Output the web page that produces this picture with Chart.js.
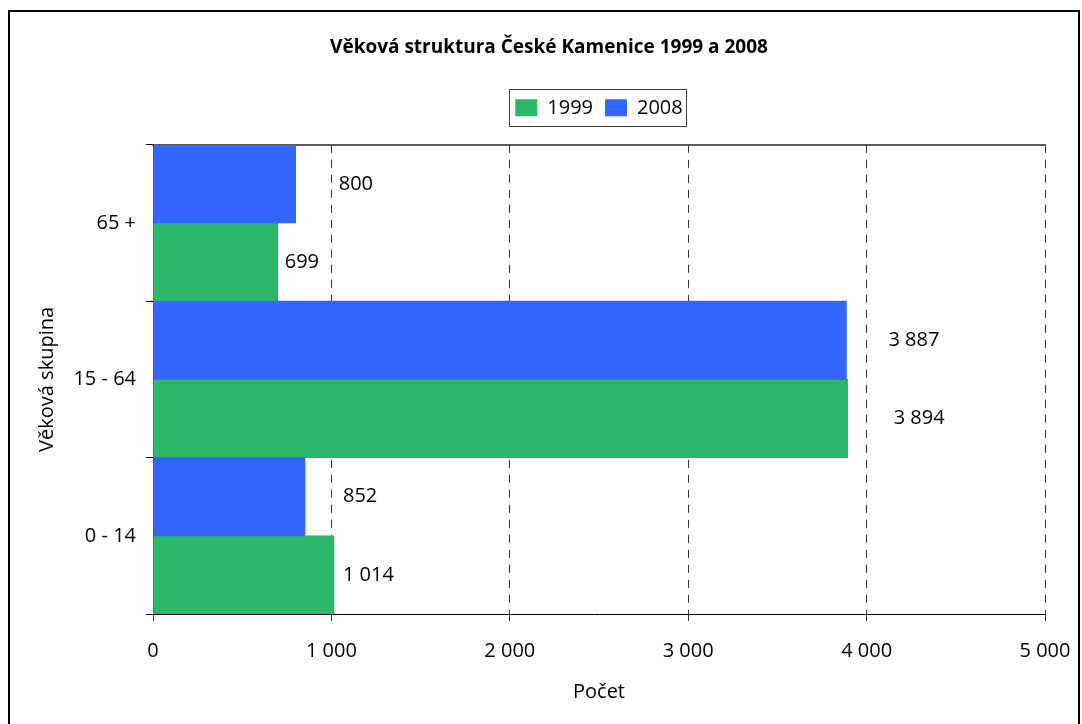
<!DOCTYPE html>
<html>
<head>
<meta charset="utf-8">
<script src="https://cdn.jsdelivr.net/npm/chart.js"></script>
<style>
  html, body { margin: 0; padding: 0; background: #fff; }
</style>
</head>
<body>
<canvas id="myChart" width="1082" height="724"></canvas>
<script>
// data, top to bottom
const categories = ["65 +", "15 - 64", "0 - 14"];
const values1999 = [699, 3894, 1014];
const values2008 = [800, 3887, 852];
const xTicks = [0, 1000, 2000, 3000, 4000, 5000];

const FONT = "'Open Sans', 'Noto Sans', sans-serif";
const fmt = (v) => String(v).replace(/\B(?=(\d{3})+(?!\d))/g, " ");

// chart frame + legend box
const framePlugin = {
  id: "frame",
  beforeDraw(chart) {
    const c = chart.ctx;
    c.save();
    c.fillStyle = "#fff";
    c.fillRect(0, 0, chart.width, chart.height);
    c.strokeStyle = "#000";
    c.lineWidth = 2;
    c.strokeRect(9, 11, 1070, 760);
    c.restore();
  },
  afterDraw(chart) {
    const boxes = chart.legend.legendHitBoxes;
    if (!boxes || !boxes.length) return;
    let x1 = Infinity, y1 = Infinity, x2 = -Infinity, y2 = -Infinity;
    boxes.forEach((b) => {
      x1 = Math.min(x1, b.left);
      y1 = Math.min(y1, b.top);
      x2 = Math.max(x2, b.left + b.width);
      y2 = Math.max(y2, b.top + b.height);
    });
    const c = chart.ctx;
    c.save();
    c.strokeStyle = "#404040";
    c.lineWidth = 1;
    c.strokeRect(Math.round(x1 - 6) + 0.5, Math.round(y1 - 9) + 0.5, Math.round(x2 - x1 + 10), Math.round(y2 - y1 + 17));
    c.restore();
  },
};

// value labels next to the bars
const labelPlugin = {
  id: "barLabels",
  afterDatasetsDraw(chart, args, opts) {
    const c = chart.ctx;
    c.save();
    c.font = "20px " + FONT;
    c.fillStyle = "#000";
    c.textAlign = "left";
    c.textBaseline = "middle";
    chart.data.datasets.forEach((ds, i) => {
      const meta = chart.getDatasetMeta(i);
      meta.data.forEach((bar, j) => {
        c.fillText(fmt(ds.data[j]), bar.x + opts.gaps[i][j], bar.y);
      });
    });
    c.restore();
  },
};

const ctx = document.getElementById("myChart");
const myChart = new Chart(ctx, {
  type: "bar",
  data: {
    labels: categories,
    datasets: [
      {
        label: "2008",
        data: values2008,
        backgroundColor: "#3366ff",
        borderWidth: 0,
      },
      {
        label: "1999",
        data: values1999,
        backgroundColor: "#2bb86a",
        borderWidth: 0,
      },
    ],
  },
  options: {
    indexAxis: "y",
    responsive: false,
    animation: false,
    devicePixelRatio: 1,
    categoryPercentage: 1.0,
    barPercentage: 1.0,
    layout: { padding: { left: 16, right: 0, top: 0, bottom: 0 } },
    scales: {
      x: {
        type: "linear",
        position: "bottom",
        min: 0,
        max: 5000,
        afterBuildTicks(s) {
          s.ticks = xTicks.map((v) => ({ value: v }));
        },
        afterFit(s) {
          s.height = 110;
          s.paddingRight = 37;
        },
        ticks: {
          color: "#000",
          font: { size: 20, family: FONT },
          padding: 18,
          maxRotation: 0,
          callback: (v) => fmt(v),
        },
        grid: { color: "#333", lineWidth: 1, tickLength: 7 },
        border: { display: true, color: "#000", width: 1, dash: [8, 7] },
        title: {
          display: true,
          text: "Počet",
          color: "#000",
          font: { size: 20, family: FONT },
          padding: { top: 0, bottom: 20 },
        },
      },
      xTop: {
        type: "linear",
        position: "top",
        min: 0,
        max: 5000,
        display: true,
        ticks: { display: false },
        grid: { display: false, drawTicks: false },
        border: { display: true, color: "#595959", width: 2 },
        afterFit(s) {
          s.height = 17;
        },
      },
      y: {
        type: "category",
        afterFit(s) {
          s.width = 137;
        },
        ticks: {
          color: "#000",
          font: { size: 20, family: FONT },
          padding: 10,
        },
        grid: { drawOnChartArea: false, color: "#000", tickLength: 7, offset: true },
        border: { display: true, color: "#000", width: 1 },
        title: {
          display: true,
          text: "Věková skupina",
          color: "#000",
          font: { size: 20, family: FONT },
          padding: { top: 19, bottom: 0 },
        },
      },
    },
    plugins: {
      title: {
        display: true,
        text: "Věková struktura České Kamenice 1999 a 2008",
        color: "#000",
        font: { size: 19, weight: "bold", family: FONT },
        padding: { top: 36, bottom: 27 },
      },
      legend: {
        position: "top",
        fullSize: false,
        reverse: true,
        labels: {
          color: "#000",
          font: { size: 20, family: FONT },
          boxWidth: 22,
          boxHeight: 17,
          padding: 12,
        },
      },
      tooltip: { enabled: false },
      barLabels: {
        // label offset from bar end, per dataset (2008, 1999) and category
        gaps: [
          [43, 42, 38],
          [7, 46, 9],
        ],
      },
    },
  },
  plugins: [framePlugin, labelPlugin],
});
</script>
</body>
</html>
